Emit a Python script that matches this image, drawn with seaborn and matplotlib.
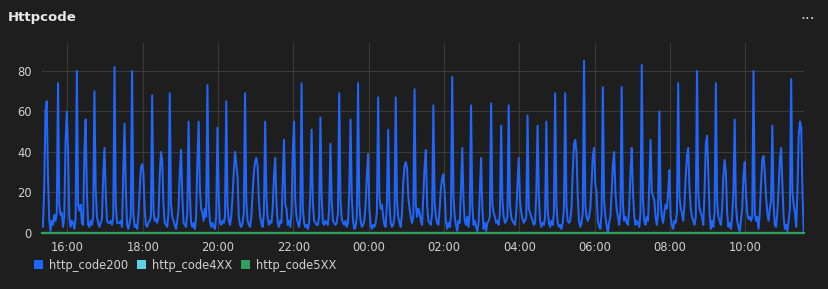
import numpy as np
import pandas as pd
import matplotlib
matplotlib.use("Agg")
import matplotlib.pyplot as plt
import matplotlib.dates as mdates
from matplotlib.patches import Patch
import seaborn as sns

# ---- data (2-minute samples starting 15:19) ----
start_time = "2024-01-01 15:19"
step = "2min"

http_code200 = [
    5, 3, 22, 60, 65, 28, 7, 1, 6, 4, 9, 6, 10, 74, 14, 9, 10, 3, 8, 45,
    60, 40, 8, 3, 6, 5, 2, 7, 80, 14, 11, 14, 5, 4, 40, 56, 20, 4, 3, 6,
    4, 8, 70, 22, 8, 5, 3, 5, 7, 28, 42, 20, 6, 5, 5, 6, 4, 8, 82, 14,
    5, 5, 5, 6, 3, 30, 54, 22, 4, 2, 5, 8, 80, 10, 3, 4, 2, 8, 20, 32,
    34, 30, 12, 4, 3, 5, 6, 8, 68, 12, 6, 7, 5, 8, 28, 40, 36, 14, 5, 4,
    3, 10, 69, 14, 8, 6, 4, 2, 6, 12, 30, 41, 18, 5, 4, 3, 10, 55, 20, 5,
    3, 5, 2, 8, 35, 55, 22, 12, 10, 6, 12, 8, 73, 15, 6, 3, 5, 3, 2, 8,
    52, 18, 5, 4, 6, 5, 8, 65, 14, 6, 4, 8, 18, 30, 40, 34, 28, 8, 4, 3,
    5, 10, 69, 15, 6, 4, 3, 8, 20, 30, 35, 37, 33, 16, 8, 5, 3, 10, 55, 18,
    7, 4, 6, 5, 12, 28, 37, 15, 5, 3, 6, 5, 25, 46, 14, 12, 4, 6, 3, 10,
    40, 55, 16, 8, 5, 3, 8, 74, 12, 5, 3, 4, 2, 5, 20, 51, 15, 6, 5, 4,
    4, 8, 57, 18, 5, 4, 6, 5, 4, 12, 44, 16, 6, 5, 4, 5, 10, 69, 16, 7,
    5, 4, 6, 3, 5, 20, 56, 18, 6, 2, 3, 8, 74, 14, 6, 3, 4, 6, 14, 28,
    39, 12, 4, 2, 4, 3, 5, 10, 67, 18, 12, 14, 8, 4, 3, 15, 51, 14, 5, 3,
    4, 8, 67, 16, 8, 5, 3, 10, 25, 33, 35, 32, 18, 12, 8, 5, 8, 71, 14, 8,
    12, 10, 6, 4, 18, 33, 41, 14, 6, 5, 4, 10, 63, 15, 8, 5, 4, 12, 22, 27,
    29, 20, 6, 2, 5, 3, 8, 77, 18, 8, 4, 1, 6, 5, 22, 42, 16, 6, 4, 8,
    3, 10, 63, 14, 4, 6, 3, 1, 5, 20, 37, 12, 2, 5, 1, 5, 6, 8, 64, 14,
    10, 8, 5, 6, 4, 10, 53, 16, 8, 5, 6, 8, 63, 14, 8, 6, 5, 4, 10, 24,
    37, 16, 10, 7, 5, 6, 8, 58, 12, 10, 8, 6, 4, 5, 20, 53, 18, 6, 3, 5,
    4, 8, 55, 12, 5, 3, 6, 4, 10, 69, 14, 5, 3, 4, 2, 5, 12, 69, 14, 6,
    5, 6, 12, 30, 44, 46, 40, 18, 6, 3, 5, 10, 85, 14, 8, 6, 8, 12, 24, 38,
    42, 24, 20, 6, 3, 2, 10, 72, 16, 8, 4, 0, 5, 8, 20, 34, 40, 20, 12, 8,
    4, 10, 72, 14, 6, 8, 5, 4, 12, 30, 42, 20, 8, 4, 6, 5, 3, 10, 83, 16,
    6, 4, 8, 6, 24, 46, 20, 18, 16, 8, 4, 10, 60, 16, 8, 5, 10, 14, 12, 20,
    31, 8, 4, 2, 6, 5, 10, 74, 18, 12, 10, 6, 14, 28, 38, 42, 22, 12, 8, 6,
    4, 8, 80, 20, 12, 10, 8, 4, 20, 44, 48, 30, 10, 2, 6, 3, 10, 74, 16, 8,
    6, 4, 12, 28, 36, 30, 10, 3, 5, 2, 8, 20, 56, 14, 6, 3, 1, 6, 12, 28,
    35, 20, 10, 7, 8, 6, 8, 80, 10, 6, 8, 2, 10, 24, 36, 38, 30, 18, 10, 6,
    12, 16, 53, 14, 4, 3, 10, 22, 36, 42, 24, 8, 2, 4, 1, 6, 12, 76, 20, 14,
    10, 3, 20, 48, 55, 52, 20, 1,
]
http_code4XX = [0] * len(http_code200)
http_code5XX = [0] * len(http_code200)

series_names = ["http_code200", "http_code4XX", "http_code5XX"]
series_colors = ["#1f66ff", "#5ed3e8", "#2f9e5f"]

times = pd.date_range(start_time, periods=len(http_code200), freq=step)
df = pd.DataFrame({
    "time": times,
    "http_code200": http_code200,
    "http_code4XX": http_code4XX,
    "http_code5XX": http_code5XX,
})

# ---- style ----
bg = "#1e1e1e"
sns.set_theme(style="dark")
plt.rcParams["font.family"] = ["DejaVu Sans"]
text_col = "#d0d0d0"
grid_col = "#3a3a3a"

fig = plt.figure(figsize=(8.29, 2.89), dpi=100, facecolor=bg)
ax = fig.add_axes([0.0503, 0.1938, 0.9192, 0.6574], facecolor=bg)

sns.lineplot(data=df, x="time", y="http_code200", ax=ax, color=series_colors[0],
             linewidth=1.45, zorder=3)
sns.lineplot(data=df, x="time", y="http_code4XX", ax=ax, color=series_colors[1],
             linewidth=1.5, zorder=4, clip_on=False)
sns.lineplot(data=df, x="time", y="http_code5XX", ax=ax, color=series_colors[2],
             linewidth=1.6, zorder=5, clip_on=False)

ax.set_xlim(times[0], times[-1])
ax.set_ylim(0, 93.8)
ax.set_yticks([0, 20, 40, 60, 80])
ax.xaxis.set_major_locator(mdates.HourLocator(byhour=range(0, 24, 2)))
ax.xaxis.set_major_formatter(mdates.DateFormatter("%H:%M"))
ax.set_xlabel("")
ax.set_ylabel("")
ax.tick_params(axis="both", length=0, colors=text_col, labelsize=8.3)
ax.tick_params(axis="y", pad=7)
ax.tick_params(axis="x", pad=6)
ax.grid(True, color=grid_col, linewidth=0.8)
for s in ax.spines.values():
    s.set_visible(False)

# title and menu dots
fig.text(0.0097, 0.94, "Httpcode", color="#e8e8e8", fontsize=9.5,
         fontweight="bold", va="center", ha="left")
fig.text(0.983, 0.932, "···", color="#cccccc", fontsize=11,
         va="center", ha="right")

# legend
handles = [Patch(facecolor=c, edgecolor="none") for c in series_colors]
leg = fig.legend(handles, series_names, loc="center left",
                 bbox_to_anchor=(0.0415, 0.083), ncol=3, frameon=False,
                 handlelength=0.75, handleheight=0.75, handletextpad=0.55,
                 columnspacing=0.75, fontsize=8.3, labelcolor=text_col,
                 borderpad=0, borderaxespad=0)

fig.savefig("out.png", dpi=100, facecolor=bg)
